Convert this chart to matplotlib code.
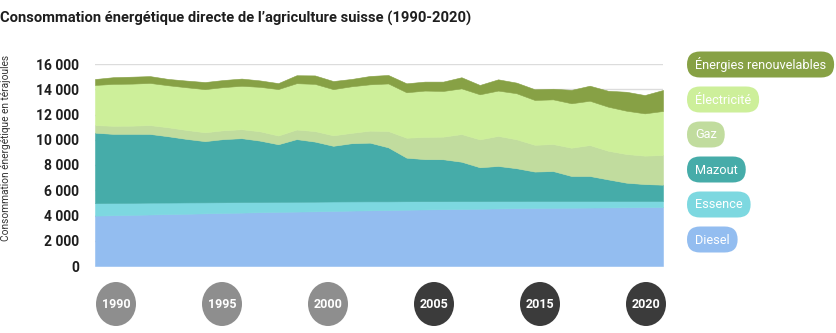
import matplotlib
matplotlib.use("Agg")
import matplotlib.pyplot as plt
from matplotlib.patches import FancyBboxPatch, Ellipse
from matplotlib.ticker import FuncFormatter

plt.rcParams['font.family'] = ['Roboto', 'DejaVu Sans']

# Yearly direct energy use of Swiss agriculture, terajoules per energy carrier
years = list(range(1990, 2022))

diesel = [3990, 4020, 4050, 4080, 4110, 4140, 4170, 4200, 4230, 4260, 4290,
          4310, 4330, 4360, 4390, 4410, 4430, 4460, 4480, 4500, 4520, 4540,
          4560, 4580, 4600, 4610, 4620, 4630, 4640, 4650, 4660, 4670]
essence = [990, 975, 955, 940, 915, 895, 870, 850, 835, 810, 795,
           780, 765, 750, 725, 710, 690, 670, 655, 635, 620, 600,
           585, 565, 550, 540, 530, 520, 510, 500, 490, 480]
mazout = [5580, 5470, 5460, 5440, 5250, 5030, 4850, 5000, 5060, 4860, 4560,
          4960, 4760, 4410, 4610, 4650, 4280, 3450, 3330, 3320, 3120, 2680,
          2780, 2600, 2330, 2370, 1980, 1980, 1710, 1450, 1340, 1290]
gaz = [600, 640, 650, 700, 710, 710, 700, 700, 710, 740, 690,
       760, 830, 830, 820, 950, 1290, 1580, 1760, 1790, 2190, 2210,
       2380, 2290, 2120, 2140, 2240, 2450, 2270, 2270, 2250, 2350]
electricite = [3180, 3320, 3330, 3340, 3330, 3380, 3420, 3420, 3440, 3520, 3680,
               3670, 3740, 3660, 3690, 3670, 3770, 3600, 3670, 3620, 3620, 3570,
               3590, 3650, 3550, 3540, 3520, 3510, 3490, 3430, 3350, 3490]
renouvelables = [470, 530, 550, 540, 500, 530, 560, 560, 570, 510, 470,
                 630, 670, 640, 580, 660, 670, 710, 710, 740, 880, 740,
                 890, 840, 850, 840, 1060, 1190, 1260, 1500, 1450, 1660]

series_labels = ["Diesel", "Essence", "Mazout", "Gaz", "Électricité",
                 "Énergies renouvelables"]
series_colors = ["#93bdf0", "#7dd8e0", "#46aca9", "#c1dc9e", "#cdef9a", "#87a145"]

y_ticks = [0, 2000, 4000, 6000, 8000, 10000, 12000, 14000, 16000]
badge_years = ["1990", "1995", "2000", "2005", "2015", "2020"]
badge_colors = ["#8e8e8e", "#8e8e8e", "#8e8e8e", "#3b3b3b", "#3b3b3b", "#3b3b3b"]

W, H = 836, 333
fig = plt.figure(figsize=(W / 100, H / 100), dpi=100)
fig.patch.set_facecolor("white")

# Main stacked area chart
ax = fig.add_axes([95 / W, (H - 266) / H, (663 - 95) / W, 202 / H])
idx = list(range(len(years)))
ax.stackplot(idx, diesel, essence, mazout, gaz, electricite, renouvelables,
             colors=series_colors, labels=series_labels,
             edgecolor="face", linewidth=0.4)
ax.set_xlim(idx[0], idx[-1])
ax.set_ylim(0, 16000)
ax.set_yticks(y_ticks)
ax.yaxis.set_major_formatter(FuncFormatter(lambda v, p: f"{int(v):,}".replace(",", " ")))
ax.set_xticks([])
ax.yaxis.grid(True, color="#dcdcdc", linewidth=1)
ax.set_axisbelow(True)
for s in ax.spines.values():
    s.set_visible(False)
ax.tick_params(axis="y", length=0, pad=11.5, labelsize=10, labelcolor="#1e1e1e")
for lbl in ax.get_yticklabels():
    lbl.set_fontweight("bold")

# Overlay in pixel coordinates for title, axis caption, legend pills and year badges
ov = fig.add_axes([0, 0, 1, 1], zorder=5)
ov.set_xlim(0, W)
ov.set_ylim(H, 0)
ov.axis("off")
ov.patch.set_alpha(0)

ov.text(0, 18, "Consommation énergétique directe de l\u2019agriculture suisse (1990-2020)",
        fontsize=10.6, fontweight="bold", color="#1e1e1e", va="center", ha="left")
ov.text(6, 148, "Consommation énergétique en térajoules", rotation=90,
        fontsize=7.3, color="#333333", va="center", ha="center")

# Legend pills, top entry first
fig.canvas.draw()
renderer = fig.canvas.get_renderer()
pill_h = 26
for i, (lab, col) in enumerate(zip(series_labels[::-1], series_colors[::-1])):
    yc = 64.5 + i * 35
    t = ov.text(695, yc + 0.5, lab, fontsize=9.2, color="white", va="center",
                ha="left", zorder=7)
    tw = t.get_window_extent(renderer=renderer).width
    pill = FancyBboxPatch((687, yc - pill_h / 2), tw + 16, pill_h,
                          boxstyle=f"round,pad=0,rounding_size={pill_h / 2}",
                          facecolor=col, edgecolor="none", zorder=6)
    ov.add_patch(pill)

# Year badges under the chart
for i, (yr, col) in enumerate(zip(badge_years, badge_colors)):
    xc = 116 + i * 106
    ov.add_patch(Ellipse((xc, 304), 40, 44, facecolor=col, edgecolor="none", zorder=6))
    ov.text(xc, 304, yr, fontsize=9, fontweight="bold", color="white",
            ha="center", va="center", zorder=7)

fig.savefig("out.png", dpi=100, facecolor="white")
